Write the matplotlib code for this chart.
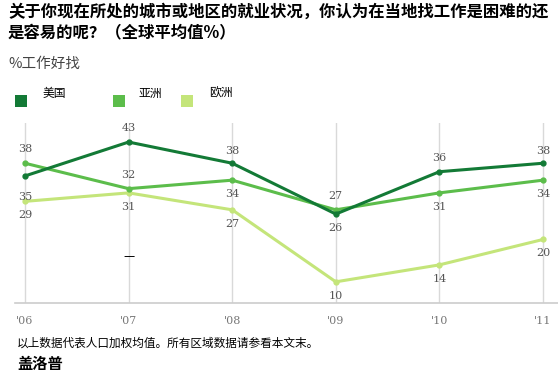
import matplotlib
matplotlib.use("Agg")
import matplotlib.pyplot as plt
from matplotlib.patches import Rectangle

plt.rcParams['font.family'] = ['Noto Sans CJK SC', 'DejaVu Sans']

#--------------------------------------------------------------------------------------
#Data
years = ["'06", "'07", "'08", "'09", "'10", "'11"]
us = [35, 43, 38, 26, 36, 38]
asia = [38, 32, 34, 27, 31, 34]
europe = [29, 31, 27, 10, 14, 20]
series_names = ["美国", "亚洲", "欧洲"]

c_us = "#137a36"
c_asia = "#5cbd4b"
c_eu = "#c4e57a"

#--------------------------------------------------------------------------------------
#Figure
W, H = 558, 380
fig = plt.figure(figsize=(W / 100, H / 100), dpi=100)
ax = fig.add_axes([15 / W, 1 - 303 / H, (W - 15) / W, (303 - 123) / H])

x = list(range(len(years)))
ax.set_xlim(-10 / 103.6, 5 + 15 / 103.6)
ax.set_ylim(5, 47.5)

for xi in x:
    ax.axvline(xi, color="#d9d9d9", lw=1, zorder=0)

ax.plot(x, europe, color=c_eu, lw=2.2, marker="o", ms=3.5, zorder=2)
ax.plot(x, asia, color=c_asia, lw=2.2, marker="o", ms=3.5, zorder=3)
ax.plot(x, us, color=c_us, lw=2.2, marker="o", ms=3.5, zorder=4)

# value labels (offset in points: + above, - below)
lbl = dict(fontsize=8, color="#555555", family="DejaVu Serif", ha="center", va="center")
us_off = [-15, 10, 9, -10, 10, 9]
asia_off = [10, 10, -10, 10, -10, -10]
eu_off = [-10, -10, -10, -10, -10, -10]
for vals, offs in [(us, us_off), (asia, asia_off), (europe, eu_off)]:
    for xi, v, o in zip(x, vals, offs):
        ax.annotate(str(v), (xi, v), xytext=(0, o), textcoords="offset points", **lbl)

ax.set_xticks(x)
ax.set_xticklabels(years, family="DejaVu Serif", fontsize=8, color="#777777")
ax.tick_params(axis="x", length=0, pad=9)
ax.set_yticks([])
for s in ["top", "left", "right"]:
    ax.spines[s].set_visible(False)
ax.spines["bottom"].set_color("#cccccc")
ax.spines["bottom"].set_linewidth(1.2)
ax.patch.set_alpha(0)

ax.text(1, 16, "—", ha="center", va="center", fontsize=9, color="black")

#--------------------------------------------------------------------------------------
#Texts
fig.text(8 / W, 1 - 3 / H, "关于你现在所处的城市或地区的就业状况，你认为在当地找工作是困难的还\n是容易的呢？（全球平均值%）",
         fontsize=11.8, fontweight="bold", va="top", ha="left", linespacing=1.2)
fig.text(8 / W, 1 - 64 / H, "%工作好找", fontsize=10.5, color="#444444", va="center", ha="left")

for xs, xl, col, name in [(15, 43, c_us, series_names[0]), (113, 138, c_asia, series_names[1]),
                          (181, 209, c_eu, series_names[2])]:
    fig.patches.append(Rectangle((xs / W, 1 - 107 / H), 12 / W, 12 / H, transform=fig.transFigure,
                                 facecolor=col, edgecolor="none"))
    fig.text(xl / W, 1 - 93 / H, name, fontsize=8.5, va="center", ha="left")

fig.text(17 / W, 1 - 343 / H, "以上数据代表人口加权均值。所有区域数据请参看本文末。", fontsize=8.4, va="center", ha="left")
fig.text(17 / W, 1 - 364 / H, "盖洛普", fontsize=11, fontweight="bold", va="center", ha="left")

fig.savefig("out.png", dpi=100)
